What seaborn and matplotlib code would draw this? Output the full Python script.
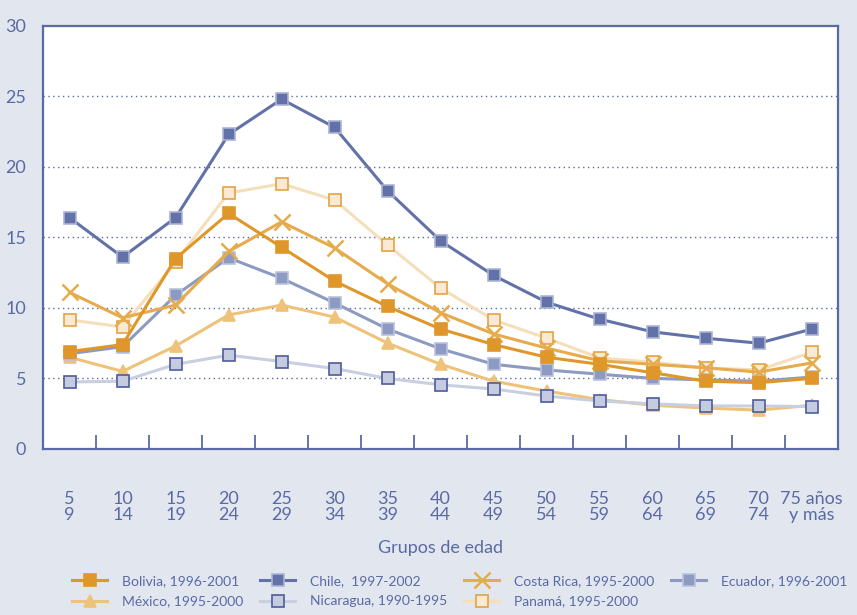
import numpy as np
import pandas as pd
import matplotlib.pyplot as plt
import seaborn as sns

# grupos de edad (etiquetas del eje x)
grupos = ["5\n9", "10\n14", "15\n19", "20\n24", "25\n29", "30\n34", "35\n39",
          "40\n44", "45\n49", "50\n54", "55\n59", "60\n64", "65\n69", "70\n74",
          "75 años\ny más"]

bolivia = [6.9, 7.4, 13.5, 16.7, 14.3, 11.9, 10.1, 8.5, 7.4, 6.5, 6.0, 5.4, 4.8, 4.7, 5.0]
chile = [16.4, 13.6, 16.4, 22.3, 24.8, 22.8, 18.3, 14.75, 12.3, 10.4, 9.2, 8.3, 7.85, 7.5, 8.5]
costa_rica = [11.1, 9.3, 10.2, 14.0, 16.1, 14.25, 11.7, 9.65, 8.15, 7.15, 6.25, 6.0, 5.75, 5.45, 6.1]
ecuador = [6.75, 7.25, 10.9, 13.55, 12.1, 10.35, 8.5, 7.1, 6.0, 5.6, 5.3, 5.0, 4.9, 4.8, 5.1]
mexico = [6.5, 5.5, 7.3, 9.5, 10.2, 9.35, 7.5, 6.0, 4.8, 4.1, 3.5, 3.1, 2.9, 2.75, 3.1]
nicaragua = [4.75, 4.8, 6.0, 6.65, 6.2, 5.7, 5.0, 4.55, 4.25, 3.75, 3.4, 3.2, 3.05, 3.05, 3.0]
panama = [9.15, 8.65, 13.25, 18.15, 18.8, 17.65, 14.45, 11.4, 9.15, 7.85, 6.45, 6.15, 5.75, 5.6, 6.85]

series = {
    "Bolivia, 1996-2001": bolivia,
    "Chile,  1997-2002": chile,
    "Costa Rica, 1995-2000": costa_rica,
    "Ecuador, 1996-2001": ecuador,
    "México, 1995-2000": mexico,
    "Nicaragua, 1990-1995": nicaragua,
    "Panamá, 1995-2000": panama,
}

# estilo de cada serie: color de linea, marcador, relleno, borde, zorder
estilos = {
    "Bolivia, 1996-2001": ("#e0972a", "s", "#e0972a", "#e0972a", 7),
    "Chile,  1997-2002": ("#6272a8", "s", "#6272a8", "#aab4d4", 8),
    "Costa Rica, 1995-2000": ("#e6ab4c", "x", "#e6ab4c", "#e6ab4c", 6),
    "Ecuador, 1996-2001": ("#8d9bc2", "s", "#8d9bc2", "#b9c2dc", 5),
    "México, 1995-2000": ("#eec278", "^", "#eec278", "#eec278", 3),
    "Nicaragua, 1990-1995": ("#c8cfe1", "s", "#c5cce0", "#4d5c9c", 4),
    "Panamá, 1995-2000": ("#f5dfbb", "s", "#fbe9d6", "#e3a342", 2),
}

df = pd.DataFrame(
    [(pais, i, v) for pais, vals in series.items() for i, v in enumerate(vals)],
    columns=["pais", "pos", "valor"],
)

fondo = "#e1e6ef"
azul = "#5b6aa3"

plt.rcParams["font.family"] = ["Lato", "DejaVu Sans"]
fig = plt.figure(figsize=(8.57, 6.15), dpi=100, facecolor=fondo)
ax = fig.add_axes([0.0502, 0.27, 0.928, 0.688])
ax.set_facecolor("white")

for pais in series:
    color, marker, mfc, mec, z = estilos[pais]
    sub = df[df["pais"] == pais]
    ms = 11 if marker == "x" else 9
    mew = 1.8 if marker == "x" else 1.2
    sns.lineplot(data=sub, x="pos", y="valor", ax=ax, color=color, lw=2.2,
                 marker=marker, markersize=ms, markerfacecolor=mfc,
                 markeredgecolor=mec, markeredgewidth=mew, zorder=z,
                 label=pais)

ax.set_xlim(-0.5, 14.5)
ax.set_ylim(0, 30)
ax.set_yticks([0, 5, 10, 15, 20, 25, 30])
for y in [5, 10, 15, 20, 25]:
    ax.axhline(y, color=azul, lw=1, ls=(0, (1, 2.5)), zorder=1)

ax.set_xticks(np.arange(len(grupos)))
ax.set_xticklabels(grupos, color=azul, fontsize=13, linespacing=1.05)
ax.set_xticks(np.arange(len(grupos) - 1) + 0.5, minor=True)
ax.tick_params(axis="x", which="major", length=0, pad=30)
ax.tick_params(axis="x", which="minor", direction="in", length=10, width=1.3, color=azul)
ax.tick_params(axis="y", length=0, pad=12, labelcolor=azul, labelsize=13)

for s in ax.spines.values():
    s.set_color(azul)
    s.set_linewidth(1.6)

ax.set_xlabel("Grupos de edad", color=azul, fontsize=13, labelpad=12)
ax.set_ylabel("")

handles, labels = ax.get_legend_handles_labels()
orden = [0, 4, 1, 5, 2, 6, 3]
ax.legend([handles[i] for i in orden], [labels[i] for i in orden],
          loc="upper left", bbox_to_anchor=(0.03, -0.285), ncol=4,
          frameon=False, fontsize=10, labelcolor=azul, handlelength=2.5,
          columnspacing=1.2, handletextpad=1.1, labelspacing=0.6,
          borderaxespad=0)

fig.savefig("out.png", dpi=100, facecolor=fondo)
